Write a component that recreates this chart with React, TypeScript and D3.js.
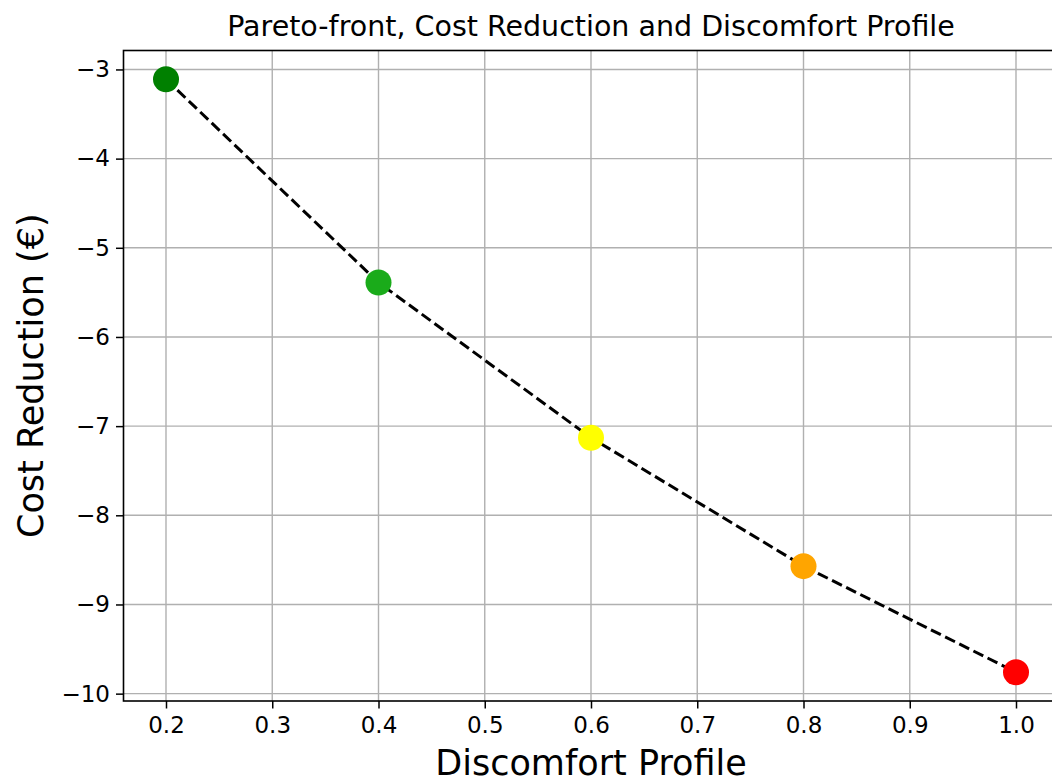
import React, { useEffect, useRef } from 'react';
import * as d3 from 'd3';

// discomfort profile vs cost reduction
const discomfort: number[] = [0.2, 0.4, 0.6, 0.8, 1.0];
const costReduction: number[] = [-3.11, -5.39, -7.13, -8.57, -9.76];
const pointColors: string[] = ['#008000', '#1aab1a', '#ffff00', '#ffa500', '#ff0000'];
const xTicks: number[] = [0.2, 0.3, 0.4, 0.5, 0.6, 0.7, 0.8, 0.9, 1.0];
const yTicks: number[] = [-3, -4, -5, -6, -7, -8, -9, -10];

const App: React.FC = () => {
  const svgRef = useRef<SVGSVGElement | null>(null);

  useEffect(() => {
    const width = 1052;
    const height = 783;
    const left = 123.5;
    const right = 1058.5;
    const top = 50.5;
    const bottom = 701;
    const font = 'DejaVu Sans, sans-serif';

    const svg = d3.select(svgRef.current);
    svg.selectAll('*').remove();
    svg.attr('width', width).attr('height', height);

    const x = d3.scaleLinear().domain([0.16, 1.04]).range([left, right]);
    const y = d3.scaleLinear().domain([-10.0825, -2.7875]).range([bottom, top]);

    svg.append('rect')
      .attr('width', width).attr('height', height).attr('fill', 'white');

    // grid
    const grid = svg.append('g').attr('stroke', '#b0b0b0').attr('stroke-width', 1.4);
    grid.selectAll('line.gx').data(xTicks).join('line')
      .attr('class', 'gx')
      .attr('x1', d => x(d)).attr('x2', d => x(d))
      .attr('y1', top).attr('y2', bottom);
    grid.selectAll('line.gy').data(yTicks).join('line')
      .attr('class', 'gy')
      .attr('x1', left).attr('x2', right)
      .attr('y1', d => y(d)).attr('y2', d => y(d));

    // axes
    const xAxis = svg.append('g')
      .attr('transform', `translate(0,${bottom})`)
      .call(d3.axisBottom(x).tickValues(xTicks).tickFormat(d3.format('.1f')).tickSize(7.5).tickPadding(8));
    const yAxis = svg.append('g')
      .attr('transform', `translate(${left},0)`)
      .call(d3.axisLeft(y).tickValues(yTicks).tickFormat(d => d3.format('d')(d as number).replace('-', '\u2212')).tickSize(7.5).tickPadding(6));

    [xAxis, yAxis].forEach(g => {
      g.select('.domain').remove();
      g.selectAll('.tick line').attr('stroke', 'black').attr('stroke-width', 1.5);
      g.selectAll('.tick text')
        .attr('fill', 'black')
        .style('font-family', font)
        .style('font-size', '23px');
    });

    // spines
    svg.append('rect')
      .attr('x', left).attr('y', top)
      .attr('width', right - left).attr('height', bottom - top)
      .attr('fill', 'none').attr('stroke', 'black').attr('stroke-width', 1.6);

    // dashed front
    const pts: [number, number][] = discomfort.map((d, i) => [d, costReduction[i]]);
    svg.append('path')
      .datum(pts)
      .attr('d', d3.line<[number, number]>().x(d => x(d[0])).y(d => y(d[1])))
      .attr('fill', 'none')
      .attr('stroke', 'black')
      .attr('stroke-width', 3)
      .attr('stroke-dasharray', '11,4.8');

    svg.append('g').selectAll('circle').data(pts).join('circle')
      .attr('cx', d => x(d[0]))
      .attr('cy', d => y(d[1]))
      .attr('r', 13)
      .attr('fill', (d, i) => pointColors[i]);

    // labels
    svg.append('text')
      .attr('x', (left + right) / 2).attr('y', 36)
      .attr('text-anchor', 'middle')
      .style('font-family', font).style('font-size', '28.5px')
      .text('Pareto-front, Cost Reduction and Discomfort Profile');

    svg.append('text')
      .attr('x', (left + right) / 2).attr('y', 775)
      .attr('text-anchor', 'middle')
      .style('font-family', font).style('font-size', '35px')
      .text('Discomfort Profile');

    svg.append('text')
      .attr('transform', `translate(43,${(top + bottom) / 2}) rotate(-90)`)
      .attr('text-anchor', 'middle')
      .style('font-family', font).style('font-size', '35px')
      .text('Cost Reduction (\u20ac)');
  }, []);

  return (
    <svg ref={svgRef} style={{ position: 'absolute', left: 0, top: 0, display: 'block' }}></svg>
  );
};

export default App;
